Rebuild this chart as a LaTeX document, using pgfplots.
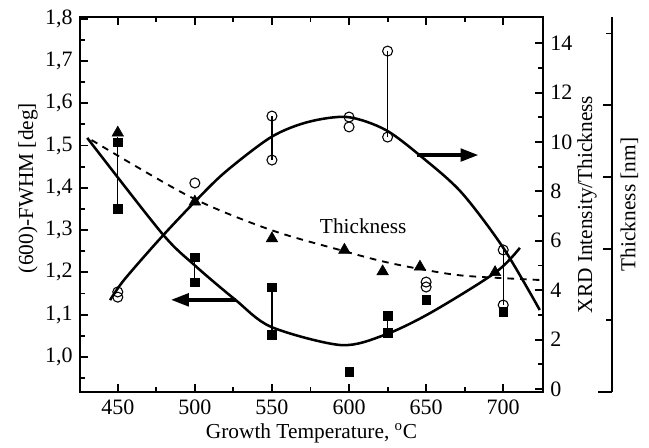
\documentclass[border=0pt]{standalone}
\usepackage{fontspec}
\setmainfont{Liberation Serif}
\usepackage{pgfplots}
\pgfplotsset{compat=1.18}
\usetikzlibrary{arrows.meta}

\begin{document}
\fontsize{16}{19}\selectfont
\begin{tikzpicture}
\pgfplotsset{
  every axis/.append style={
    scale only axis,
    width=347.25pt, height=281.25pt,
    xmin=425.5, xmax=725.8,
    axis line style={line width=1.8pt,-},
    every tick/.style={line width=1.4pt,black},
    major tick length=6pt, minor tick length=3.5pt,
    tick align=inside,
    clip=false,
    tick label style={font=\fontsize{16.5}{19}\selectfont},
    /pgf/number format/assume math mode=true,
  },
}

% FWHM (left axis), thickness points
\begin{axis}[
  name=main,
  ymin=0.917, ymax=1.804,
  xtick={450,500,550,600,650,700},
  minor xtick={475,525,575,625,675},
  ytick={1.0,1.1,1.2,1.3,1.4,1.5,1.6,1.7,1.8},
  minor ytick={0.95,1.05,1.15,1.25,1.35,1.45,1.55,1.65,1.75},
  ytick pos=left,
  xtick pos=both,
  yticklabel style={/pgf/number format/.cd,fixed,fixed zerofill,precision=1,use comma},
]
% FWHM trend
\addplot[line width=1.9pt, smooth] coordinates {
  (430.2,1.518) (478.5,1.293) (499.8,1.217) (526.3,1.135) (549.5,1.071)
  (594.7,1.028) (623,1.052) (652.7,1.104) (694.7,1.199) (710.8,1.258)};
% thickness trend
\addplot[line width=1.4pt, dash pattern=on 5pt off 4.5pt, smooth] coordinates {
  (433,1.513) (497.3,1.378) (549.5,1.300) (597,1.250) (621.8,1.226)
  (646,1.208) (674.7,1.192) (723.7,1.182)};
% scatter bars
\addplot[line width=0.9pt] coordinates {(450,1.35) (450,1.52)};
\addplot[line width=0.9pt] coordinates {(500,1.177) (500,1.236)};
\addplot[line width=0.9pt] coordinates {(550,1.052) (550,1.165)};
\addplot[line width=0.9pt] coordinates {(625,1.057) (625,1.097)};
% FWHM points
\addplot[only marks, mark=square*, mark size=3.2pt, fill=black] coordinates {
  (450,1.35) (450,1.508) (500,1.236) (500,1.177) (550,1.165) (550,1.052)
  (600,0.965) (625,1.097) (625,1.057) (650,1.135) (700,1.107)};
% thickness points
\addplot[only marks, mark=triangle*, mark size=5pt, fill=black] coordinates {
  (450,1.53) (500,1.367) (550,1.28) (597,1.253) (621.8,1.202) (646,1.213) (694.7,1.20)};

\draw[line width=3.5pt, -{Triangle[length=14pt,width=9pt]}] (axis cs:527,1.135) -- (axis cs:484,1.135);
\draw[line width=3.5pt, -{Triangle[length=14pt,width=9pt]}] (axis cs:644,1.4775) -- (axis cs:684.4,1.4775);
\node at (axis cs:609.2,1.31) {Thickness};

\node[rotate=90] at ([xshift=-39pt]rel axis cs:0,0.544) {(600)-FWHM [deg]};
\node at ([yshift=-31pt]rel axis cs:0.5,0) {Growth Temperature, \textsuperscript{o}C};
\end{axis}

% XRD intensity / thickness (right axis)
\begin{axis}[
  ymin=-0.12, ymax=15.06,
  axis x line=none,
  axis y line*=right,
  ytick={0,2,4,6,8,10,12,14},
  minor ytick={1,3,5,7,9,11,13},
]
\addplot[line width=1.9pt, smooth] coordinates {
  (445,3.6) (454,4.41) (476.6,6.03) (499.8,7.57) (519.8,8.79) (549.5,10.2)
  (573.4,10.81) (599,11.01) (623.7,10.49) (648,9.35) (673,7.95)
  (700,5.72) (723.7,3.2)};
\addplot[line width=0.9pt] coordinates {(550,9.27) (550,11.05)};
\addplot[line width=0.9pt] coordinates {(625,10.2) (625,13.68)};
\addplot[line width=0.9pt] coordinates {(700,3.4) (700,5.63)};
\addplot[only marks, mark=o, mark size=3.75pt, line width=0.8pt,
  mark options={fill=white}] coordinates {
  (450,3.93) (450,3.72) (500,8.34) (550,11.05) (550,9.27) (600,11.01) (600,10.61)
  (625,13.68) (625,10.2) (650,4.33) (650,4.13) (700,5.63) (700,3.4)};
\node[rotate=90] at ([xshift=33pt]rel axis cs:1,0.5) {XRD Intensity/Thickness};
\end{axis}

% thickness scale
\begin{axis}[
  at={(51.75pt,0)},
  ymin=0, ymax=5.23,
  axis x line=none,
  axis y line*=right,
  ytick={2,3,4},
  minor ytick={1,5},
  yticklabels={},
  major tick length=7pt, minor tick length=4.5pt,
]
\draw[line width=1.8pt] (rel axis cs:1,0) -- ([xshift=-10.5pt]rel axis cs:1,0);
\node[rotate=90] at ([xshift=13pt]rel axis cs:1,0.5) {Thickness [nm]};
\end{axis}

\pgfresetboundingbox
\path[use as bounding box] (-60pt,-41.25pt) rectangle (426.75pt,294pt);
\end{tikzpicture}
\end{document}
